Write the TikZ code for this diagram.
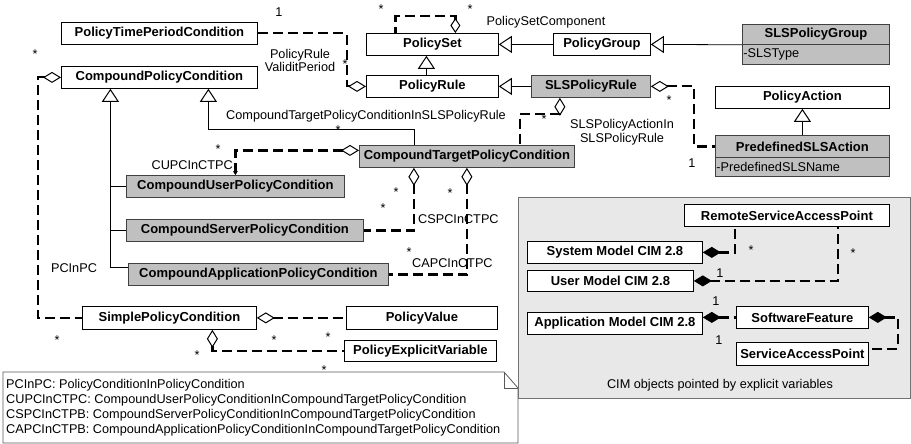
\documentclass[tikz,border=0pt]{standalone}
\usepackage{fontspec}
\setmainfont{Liberation Sans}
\usetikzlibrary{arrows.meta}
\definecolor{slsgrey}{RGB}{192,192,192}
\definecolor{cimgrey}{RGB}{232,232,232}
\newcommand\clsfont{\fontsize{13}{15}\selectfont\bfseries}
\newcommand\lblfont{\fontsize{12.7}{15}\selectfont}
\begin{document}
\begin{tikzpicture}[x=1pt,y=-1pt,
    cls/.style={draw=black, fill=white, line width=0.8pt, font=\clsfont, inner sep=0pt, anchor=north west, minimum height=22pt},
    slscls/.style={cls, fill=slsgrey, draw=black!75},
    attr/.style={draw=black!75, fill=slsgrey, line width=0.8pt, font=\lblfont, anchor=north west, inner xsep=1pt, inner ysep=0pt, align=left},
    lbl/.style={font=\lblfont, inner sep=0pt},
    star/.style={lbl, anchor=base, yshift=-7pt},
    agg/.style={line width=2.2pt, dash pattern=on 10pt off 5pt, {Diamond[open, length=18pt, width=11pt, line width=1pt]}-},
    comp/.style={line width=2.2pt, dash pattern=on 10pt off 5pt, {Diamond[length=18pt, width=11pt, line width=1pt]}-},
    gen/.style={line width=0.8pt, -{Triangle[open, length=13pt, width=17pt, line width=1pt]}},
    tree/.style={line width=0.8pt},
    notebox/.style={draw=black!65, line width=0.8pt}]
    \useasboundingbox (0,0) rectangle (911,444);
    \node[draw=black!55, fill=cimgrey, line width=0.8pt, anchor=north west, minimum width=392pt, minimum height=201pt] (cimarea) at (518,197) {};
    \node[lbl] (cimcaption) at (720,385) {CIM objects pointed by explicit variables};
    \filldraw[notebox, fill=white] (3,372) -- (504,372) -- (518,388) -- (518,443) -- (3,443) -- cycle;
    \draw[notebox] (504,372) -- (504,388) -- (518,388);
    \node[lbl, anchor=north west, align=left] (legend) at (6,379) {PCInPC: PolicyConditionInPolicyCondition\\
        CUPCInCTPC:\ CompoundUserPolicyConditionInCompoundTargetPolicyCondition\\
        CSPCInCTPB: CompoundServerPolicyConditionInCompoundTargetPolicyCondition\\
        CAPCInCTPB: CompoundApplicationPolicyConditionInCompoundTargetPolicyCondition};

    \node[cls, minimum width=196pt] (ptpc) at (61,22) {PolicyTimePeriodCondition};
    \node[cls, minimum width=196pt] (cpc) at (61,66) {CompoundPolicyCondition};
    \node[cls, minimum width=132pt] (pset) at (366,33) {PolicySet};
    \node[cls, minimum width=132pt] (prule) at (366,75) {PolicyRule};
    \node[cls, minimum width=97pt] (pgroup) at (553,33) {PolicyGroup};
    \node[slscls, minimum width=147pt, minimum height=20pt] (slsgroup) at (742,24) {SLSPolicyGroup};
    \node[attr, text width=145pt, minimum height=20pt] (slsgroupattr) at (742,44) {-SLSType};
    \node[slscls, minimum width=119pt] (slsrule) at (531,75) {SLSPolicyRule};
    \node[cls, minimum width=174pt] (paction) at (715,86) {PolicyAction};
    \node[slscls, minimum width=174pt] (predef) at (715,135) {PredefinedSLSAction};
    \node[attr, text width=172pt, minimum height=19pt] (predefattr) at (715,157) {-PredefinedSLSName};
    \node[slscls, minimum width=215pt] (ctpc) at (359,145) {CompoundTargetPolicyCondition};
    \node[slscls, minimum width=218pt] (cupc) at (126,175) {CompoundUserPolicyCondition};
    \node[slscls, minimum width=237pt] (cspc) at (126,219) {CompoundServerPolicyCondition};
    \node[slscls, minimum width=260pt] (capc) at (128,263) {CompoundApplicationPolicyCondition};
    \node[cls, minimum width=174pt, minimum height=23pt] (spc) at (82,306) {SimplePolicyCondition};
    \node[cls, minimum width=151pt, minimum height=23pt] (pvalue) at (346,306) {PolicyValue};
    \node[cls, minimum width=152pt, minimum height=21pt] (pexvar) at (344,340) {PolicyExplicitVariable};
    \node[cls, minimum width=205pt] (rsap) at (684,204) {RemoteServiceAccessPoint};
    \node[cls, minimum width=175pt] (sysmodel) at (527,241) {System Model CIM 2.8};
    \node[cls, minimum width=166pt, minimum height=21pt] (usermodel) at (527,270) {User Model CIM 2.8};
    \node[cls, minimum width=175pt] (appmodel) at (527,312) {Application Model CIM 2.8};
    \node[cls, minimum width=132pt] (swfeature) at (736,306) {SoftwareFeature};
    \node[cls, minimum width=132pt, minimum height=23pt] (sap) at (736,342) {ServiceAccessPoint};

    \draw[agg] (prule.west) -- ++(-19,0) |- (ptpc.east);
    \draw[agg, {Diamond[open, length=15pt, width=10pt, line width=1pt]}-] ([xshift=23pt]pset.north) -- ++(0,-17) -| ([xshift=-37pt]pset.north);
    \draw[gen] (pgroup.west) -- (pset.east);
    \draw[gen] (slsgroup.south west) -- (pgroup.east);
    \draw[gen] ([xshift=-6pt]prule.north) -- ([xshift=-6pt]pset.south);
    \draw[gen] (slsrule.west) -- (prule.east);
    \draw[gen] (predef.north) -- (paction.south);
    \draw[agg] (slsrule.east) -- ++(43,0) |- (predef.west);
    \draw[agg] ([xshift=-31pt]slsrule.south) -- ++(0,16) -| ([xshift=53pt]ctpc.north);
    \draw[gen] ([xshift=-53pt]ctpc.north) -- ++(0,-16) -| ([xshift=49pt]cpc.south);
    \coordinate (trunk) at ([xshift=-49pt]cpc.south);
    \draw[gen] ([yshift=7pt]capc.west) -| (trunk);
    \draw[tree] (cupc.west) -- (cupc.west -| trunk);
    \draw[tree] (cspc.west) -- (cspc.west -| trunk);
    \draw[agg, {Diamond[open, length=18pt, width=11pt, line width=1pt]}-{Stealth[length=4pt, width=5pt, line width=0.5pt]}] ([yshift=6pt]ctpc.west) -| (cupc.north);
    \draw[agg] ([xshift=-53pt]ctpc.south) |- (cspc.east);
    \draw[agg] (ctpc.south) |- (capc.east);
    \draw[agg] (cpc.west) -- ++(-23,0) |- (spc.west);
    \draw[agg] (spc.east) -- (pvalue.west);
    \draw[agg] ([xshift=43pt]spc.south) |- (pexvar.west);
    \draw[comp] (sysmodel.east) -| ([xshift=-52pt]rsap.south);
    \draw[comp] (usermodel.east) -| ([xshift=51pt]rsap.south);
    \draw[comp] (appmodel.east |- swfeature.west) -- (swfeature.west);
    \draw[comp] (swfeature.east) -- ++(29,0) |- ([yshift=5pt]sap.east);

    \node[lbl] (ptpcmult) at (279,12) {1};
    \node[lbl, align=center] (pruleval) at (300,60) {PolicyRule\\[-2pt]ValiditPeriod};
    \node[star] (prulemult) at (345,62) {*};
    \node[star] (psetmulta) at (381,7) {*};
    \node[star] (psetmultb) at (470,7) {*};
    \node[lbl] (psetcomp) at (546,22) {PolicySetComponent};
    \node[star] (slsrulemult) at (669,98) {*};
    \node[lbl] (predefmult) at (692,163) {1};
    \node[star] (ctpcmult) at (544,117) {*};
    \node[lbl, align=center] (actionrule) at (622,132) {SLSPolicyActionIn\\[-1pt]SLSPolicyRule};
    \node[lbl, anchor=west] (ctpcrule) at (226,116) {CompoundTargetPolicyConditionInSLSPolicyRule};
    \node[star] (ctpcgen) at (338,127) {*};
    \node[star] (cupcmult) at (218,146) {*};
    \node[lbl, anchor=east] (cupclbl) at (233,165) {CUPCInCTPC};
    \node[star] (cspcmulta) at (396,189) {*};
    \node[star] (cspcmultb) at (383,205) {*};
    \node[star] (capcmulta) at (450,190) {*};
    \node[lbl, anchor=west] (cspclbl) at (418,219) {CSPCInCTPC};
    \node[star] (capcmultb) at (409,249) {*};
    \node[lbl, anchor=west] (capclbl) at (412,263) {CAPCInCTPC};
    \node[lbl] (pcinpc) at (74,268) {PCInPC};
    \node[star] (cpcmult) at (35,52) {*};
    \node[star] (spcmulta) at (57,337) {*};
    \node[star] (spcmultb) at (274,337) {*};
    \node[star] (pvaluemult) at (328,334) {*};
    \node[star] (spcmultc) at (197,352) {*};
    \node[star] (pexvarmult) at (324,367) {*};
    \node[star] (rsapmulta) at (751,247) {*};
    \node[star] (rsapmultb) at (853,250) {*};
    \node[lbl] (usermult) at (720,273) {1};
    \node[lbl] (appmulta) at (716,301) {1};
    \node[lbl] (appmultb) at (719,340) {1};
\end{tikzpicture}
\end{document}
